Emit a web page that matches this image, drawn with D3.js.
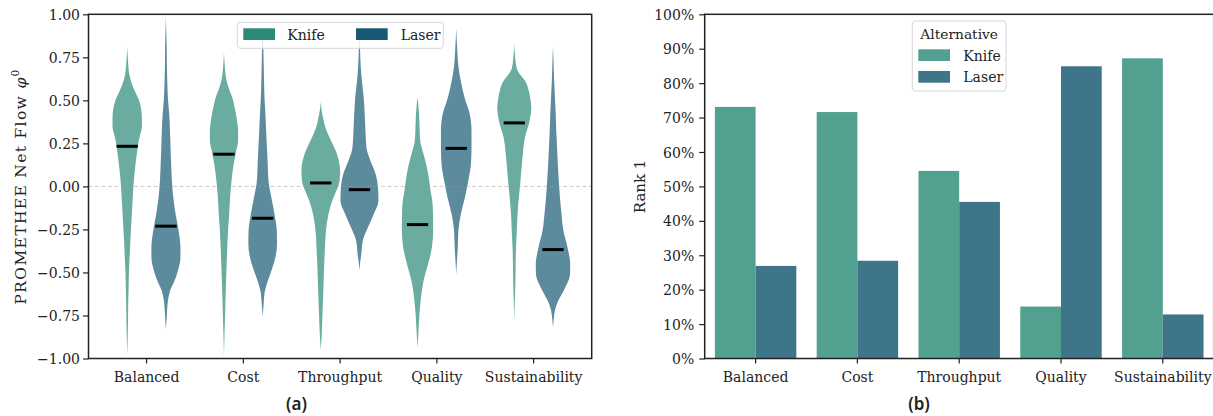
<!DOCTYPE html>
<html>
<head>
<meta charset="utf-8">
<script src="https://cdn.jsdelivr.net/npm/d3@7"></script>
<style>
  html, body { margin: 0; padding: 0; background: #ffffff; }
  svg { display: block; }
</style>
</head>
<body>
<svg id="chart" width="1213" height="416"></svg>
<script>
// ---------------- DATA ----------------
const categories = ["Balanced", "Cost", "Throughput", "Quality", "Sustainability"];
const alternatives = ["Knife", "Laser"];

// Median net flow per category (black bars in panel a)
const knifeMedians = [0.233, 0.187, 0.020, -0.222, 0.369];
const laserMedians = [-0.231, -0.185, -0.019, 0.221, -0.367];

// Violin profiles: [net flow, relative density (1 = widest violin)]
const knifeProfiles = [
  [[0.81,0],[0.75,0.03],[0.70,0.06],[0.65,0.11],[0.60,0.23],[0.55,0.41],[0.50,0.61],[0.45,0.72],[0.40,0.76],[0.35,0.76],[0.30,0.67],[0.25,0.57],[0.20,0.51],[0.10,0.40],[0.0,0.32],[-0.1,0.27],[-0.2,0.22],[-0.3,0.17],[-0.4,0.13],[-0.5,0.09],[-0.6,0.07],[-0.7,0.05],[-0.8,0.04],[-0.9,0.02],[-0.98,0]],
  [[0.78,0],[0.72,0.03],[0.66,0.07],[0.613,0.14],[0.56,0.28],[0.516,0.43],[0.47,0.53],[0.42,0.62],[0.37,0.69],[0.323,0.73],[0.265,0.73],[0.22,0.66],[0.187,0.60],[0.129,0.50],[0.032,0.39],[-0.06,0.32],[-0.16,0.27],[-0.26,0.21],[-0.355,0.17],[-0.45,0.14],[-0.55,0.11],[-0.65,0.08],[-0.74,0.06],[-0.85,0.03],[-0.99,0]],
  [[0.49,0],[0.44,0.05],[0.40,0.12],[0.363,0.19],[0.31,0.35],[0.265,0.53],[0.22,0.72],[0.187,0.84],[0.14,0.95],[0.09,1.0],[0.032,0.97],[-0.03,0.79],[-0.085,0.59],[-0.16,0.40],[-0.258,0.27],[-0.355,0.22],[-0.45,0.18],[-0.55,0.15],[-0.65,0.12],[-0.74,0.09],[-0.86,0.05],[-0.95,0]],
  [[0.52,0],[0.42,0.08],[0.33,0.11],[0.265,0.14],[0.2,0.28],[0.129,0.45],[0.06,0.57],[-0.006,0.65],[-0.12,0.79],[-0.258,0.81],[-0.355,0.74],[-0.45,0.55],[-0.55,0.31],[-0.645,0.18],[-0.74,0.10],[-0.84,0.05],[-0.94,0]],
  [[0.83,0],[0.76,0.04],[0.69,0.12],[0.65,0.30],[0.613,0.56],[0.56,0.74],[0.516,0.82],[0.46,0.88],[0.38,0.79],[0.284,0.55],[0.187,0.44],[0.1,0.37],[0.032,0.32],[-0.06,0.24],[-0.16,0.17],[-0.26,0.13],[-0.355,0.09],[-0.45,0.07],[-0.55,0.06],[-0.66,0.03],[-0.78,0]]
];
const laserProfiles = [
  [[1.0,0],[0.9,0.02],[0.82,0.04],[0.7,0.05],[0.613,0.07],[0.5,0.11],[0.42,0.17],[0.32,0.21],[0.226,0.24],[0.13,0.27],[0.03,0.31],[-0.065,0.38],[-0.16,0.50],[-0.26,0.66],[-0.355,0.75],[-0.41,0.75],[-0.49,0.62],[-0.547,0.45],[-0.605,0.22],[-0.66,0.11],[-0.74,0.05],[-0.8,0.02],[-0.83,0]],
  [[0.92,0],[0.82,0.03],[0.72,0.05],[0.613,0.07],[0.5,0.10],[0.42,0.14],[0.32,0.18],[0.226,0.22],[0.13,0.26],[0.032,0.30],[-0.065,0.45],[-0.16,0.61],[-0.258,0.73],[-0.336,0.74],[-0.41,0.66],[-0.49,0.45],[-0.547,0.27],[-0.605,0.12],[-0.68,0.05],[-0.76,0]],
  [[0.9,0],[0.8,0.03],[0.69,0.07],[0.6,0.14],[0.516,0.22],[0.42,0.27],[0.323,0.31],[0.226,0.36],[0.149,0.57],[0.07,0.84],[-0.03,0.97],[-0.085,0.98],[-0.16,0.74],[-0.24,0.43],[-0.316,0.17],[-0.39,0.10],[-0.44,0.04],[-0.49,0]],
  [[0.92,0],[0.8,0.05],[0.69,0.12],[0.6,0.26],[0.516,0.43],[0.42,0.70],[0.323,0.79],[0.226,0.79],[0.129,0.76],[0.032,0.62],[-0.065,0.45],[-0.16,0.24],[-0.258,0.11],[-0.355,0.08],[-0.43,0.04],[-0.51,0]],
  [[0.81,0],[0.72,0.03],[0.613,0.06],[0.52,0.10],[0.42,0.14],[0.32,0.17],[0.226,0.21],[0.13,0.25],[0.032,0.30],[-0.065,0.36],[-0.16,0.44],[-0.258,0.54],[-0.355,0.75],[-0.45,0.89],[-0.51,0.88],[-0.59,0.62],[-0.665,0.27],[-0.72,0.10],[-0.77,0.04],[-0.82,0]]
];

// Share of runs in which each alternative is ranked first (%)
const knifeRank1 = [73.1, 71.6, 54.5, 15.1, 87.2];
const laserRank1 = [26.9, 28.4, 45.5, 84.9, 12.8];

// Tick labels
const yTicksLeft = [-1.00, -0.75, -0.50, -0.25, 0.00, 0.25, 0.50, 0.75, 1.00];
const yTicksRight = [0, 10, 20, 30, 40, 50, 60, 70, 80, 90, 100];

// ---------------- STYLE ----------------
const violinColor = { Knife: "#2b8a78", Laser: "#165a73" };
const barColor = { Knife: "#52a08f", Laser: "#3e7589" };
const serif = "'DejaVu Serif', serif";
const ink = "#222222";

const svg = d3.select("#chart");
svg.append("rect").attr("width", 1213).attr("height", 416).attr("fill", "#fff");

// ================= PANEL (a) =================
const L = { left: 88.5, right: 591.7, top: 14.3, bottom: 358.5 };
const xL = d3.scaleBand().domain(categories).range([L.left, L.right]).paddingInner(0.2).paddingOuter(0.2);
const hL = d3.scaleBand().domain(alternatives).range([0, xL.bandwidth()]);
const yL = d3.scaleLinear().domain([-1, 1]).range([L.bottom, L.top]);

const gA = svg.append("g");
svg.append("clipPath").attr("id", "clipA").append("rect")
  .attr("x", L.left).attr("y", L.top).attr("width", L.right - L.left).attr("height", L.bottom - L.top);

const violinLayer = gA.append("g").attr("clip-path", "url(#clipA)");
const profiles = { Knife: knifeProfiles, Laser: laserProfiles };
const medians = { Knife: knifeMedians, Laser: laserMedians };
const maxHalf = hL.bandwidth() / 2;

alternatives.forEach(alt => {
  categories.forEach((cat, i) => {
    const cx = xL(cat) + hL(alt) + hL.bandwidth() / 2;
    const area = d3.area()
      .y(d => yL(d[0]))
      .x0(d => cx - d[1] * maxHalf)
      .x1(d => cx + d[1] * maxHalf)
      .curve(d3.curveMonotoneY);
    violinLayer.append("path")
      .attr("d", area(profiles[alt][i]))
      .attr("fill", violinColor[alt])
      .attr("fill-opacity", 0.7);
  });
});

// zero reference line
gA.append("line")
  .attr("x1", L.left).attr("x2", L.right)
  .attr("y1", yL(0)).attr("y2", yL(0))
  .attr("stroke", "#9a9a9a").attr("stroke-opacity", 0.5)
  .attr("stroke-width", 1).attr("stroke-dasharray", "4,2.5");

// medians
alternatives.forEach(alt => {
  categories.forEach((cat, i) => {
    const cx = xL(cat) + hL(alt) + hL.bandwidth() / 2;
    gA.append("line")
      .attr("x1", cx - 0.55 * maxHalf).attr("x2", cx + 0.55 * maxHalf)
      .attr("y1", yL(medians[alt][i])).attr("y2", yL(medians[alt][i]))
      .attr("stroke", "#000").attr("stroke-width", 3);
  });
});

// axes
function styleAxis(g) {
  g.select(".domain").remove();
  g.selectAll(".tick line").attr("stroke", ink).attr("stroke-width", 1.2);
  g.selectAll(".tick text").attr("fill", ink).attr("font-family", serif).attr("font-size", 14);
}
const axYL = gA.append("g").attr("transform", `translate(${L.left},0)`)
  .call(d3.axisLeft(yL).tickValues(yTicksLeft).tickFormat(d3.format(".2f")).tickSize(5.5).tickPadding(3))
  .call(styleAxis);
axYL.selectAll(".tick text").attr("dy", "0.36em");

const axXL = gA.append("g").attr("transform", `translate(0,${L.bottom})`)
  .call(d3.axisBottom(xL).tickSize(5).tickPadding(8))
  .call(styleAxis);
axXL.selectAll(".tick text").attr("dy", "0").attr("y", 381.5 - L.bottom);

gA.append("rect")
  .attr("x", L.left).attr("y", L.top).attr("width", L.right - L.left).attr("height", L.bottom - L.top)
  .attr("fill", "none").attr("stroke", ink).attr("stroke-width", 1.5);

// y label (stretched to the reference's span)
const ylabA = gA.append("text")
  .attr("transform", `translate(26,${(L.top + L.bottom) / 2}) rotate(-90)`)
  .attr("text-anchor", "middle").attr("font-family", serif).attr("font-size", 15.5).attr("fill", ink);
ylabA.append("tspan").text("PROMETHEE Net Flow ");
ylabA.append("tspan").attr("font-style", "italic").text("φ");
ylabA.append("tspan").attr("font-size", 10.5).attr("dy", -7).text("0");
(function fit() {
  const len = ylabA.node().getComputedTextLength();
  const chars = "PROMETHEE Net Flow φ0".length;
  if (len < 236) ylabA.attr("letter-spacing", ((236 - len) / chars).toFixed(2) + "px");
})();

// legend (a)
const legA = gA.append("g");
legA.append("rect").attr("x", 237.3).attr("y", 22.3).attr("width", 206).attr("height", 26).attr("rx", 3)
  .attr("fill", "#fff").attr("fill-opacity", 0.8).attr("stroke", "#d6d6d6").attr("stroke-width", 1);
[{ alt: "Knife", px: 243.3, tx: 287.3 }, { alt: "Laser", px: 356, tx: 400.7 }].forEach(o => {
  legA.append("rect").attr("x", o.px).attr("y", 28.3).attr("width", 31.7).attr("height", 11.7).attr("fill", violinColor[o.alt]);
  legA.append("text").attr("x", o.tx).attr("y", 39.5).attr("font-family", serif).attr("font-size", 14).attr("fill", ink).text(o.alt);
});

// panel caption
svg.append("text").attr("x", 296.5).attr("y", 410).attr("text-anchor", "middle")
  .attr("font-family", "'Noto Sans', sans-serif").attr("font-size", 17).attr("font-weight", 600).attr("fill", ink).text("(a)");

// ================= PANEL (b) =================
const R = { left: 704.7, right: 1213.7, top: 14.3, bottom: 358.5 };
const xR = d3.scaleBand().domain(categories).range([R.left, R.right]).paddingInner(0.2).paddingOuter(0.1);
const hR = d3.scaleBand().domain(alternatives).range([0, xR.bandwidth()]);
const yR = d3.scaleLinear().domain([0, 100]).range([R.bottom, R.top]);
const rank1 = { Knife: knifeRank1, Laser: laserRank1 };

const gB = svg.append("g");
alternatives.forEach(alt => {
  gB.append("g").selectAll("rect").data(categories).join("rect")
    .attr("x", c => xR(c) + hR(alt))
    .attr("width", hR.bandwidth())
    .attr("y", (c, i) => yR(rank1[alt][i]))
    .attr("height", (c, i) => yR(0) - yR(rank1[alt][i]))
    .attr("fill", barColor[alt]);
});

const axYR = gB.append("g").attr("transform", `translate(${R.left},0)`)
  .call(d3.axisLeft(yR).tickValues(yTicksRight).tickFormat(d => d + "%").tickSize(5.5).tickPadding(5))
  .call(styleAxis);
axYR.selectAll(".tick text").attr("dy", "0.36em");

const axXR = gB.append("g").attr("transform", `translate(0,${R.bottom})`)
  .call(d3.axisBottom(xR).tickSize(5).tickPadding(8))
  .call(styleAxis);
axXR.selectAll(".tick text").attr("dy", "0").attr("y", 381.5 - R.bottom);

gB.append("rect")
  .attr("x", R.left).attr("y", R.top).attr("width", R.right - R.left).attr("height", R.bottom - R.top)
  .attr("fill", "none").attr("stroke", ink).attr("stroke-width", 1.5);

gB.append("text")
  .attr("transform", `translate(645,${(R.top + R.bottom) / 2}) rotate(-90)`)
  .attr("text-anchor", "middle").attr("font-family", serif).attr("font-size", 15).attr("fill", ink)
  .text("Rank 1");

// legend (b)
const legB = gB.append("g");
legB.append("rect").attr("x", 912.3).attr("y", 21).attr("width", 93.7).attr("height", 70).attr("rx", 3)
  .attr("fill", "#fff").attr("fill-opacity", 0.8).attr("stroke", "#d6d6d6").attr("stroke-width", 1);
legB.append("text").attr("x", 959.2).attr("y", 38.8).attr("text-anchor", "middle")
  .attr("font-family", serif).attr("font-size", 13.8).attr("fill", ink).text("Alternative");
[{ alt: "Knife", py: 49.3, ty: 60.5 }, { alt: "Laser", py: 71, ty: 82.2 }].forEach(o => {
  legB.append("rect").attr("x", 918.3).attr("y", o.py).attr("width", 31.7).attr("height", 11.7).attr("fill", barColor[o.alt]);
  legB.append("text").attr("x", 963.3).attr("y", o.ty).attr("font-family", serif).attr("font-size", 14).attr("fill", ink).text(o.alt);
});

svg.append("text").attr("x", 919).attr("y", 410).attr("text-anchor", "middle")
  .attr("font-family", "'Noto Sans', sans-serif").attr("font-size", 17).attr("font-weight", 600).attr("fill", ink).text("(b)");
</script>
</body>
</html>
